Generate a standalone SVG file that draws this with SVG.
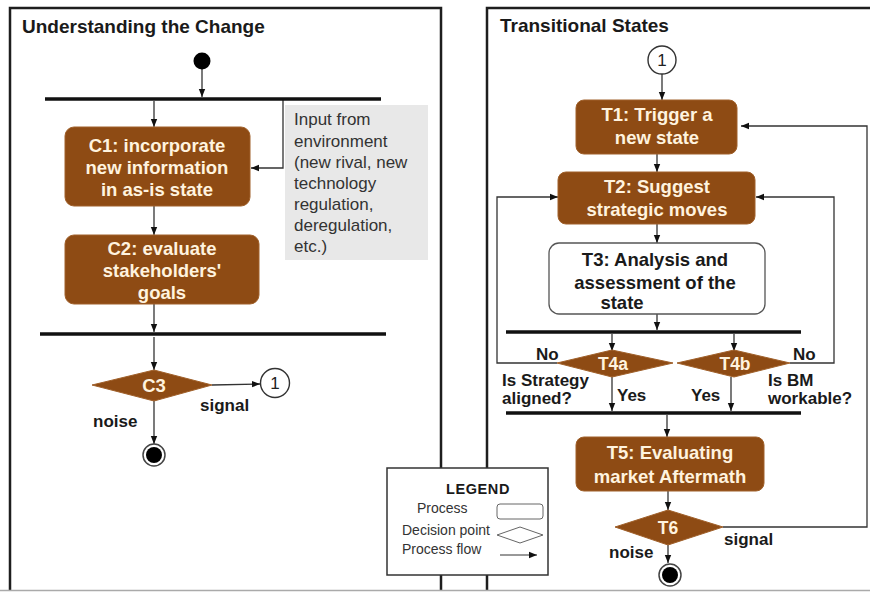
<svg xmlns="http://www.w3.org/2000/svg" width="870" height="592" viewBox="0 0 870 592">
<defs>
<marker id="arr" viewBox="0 0 10 10" refX="10" refY="5" markerWidth="8" markerHeight="8" markerUnits="userSpaceOnUse" orient="auto">
<path d="M0,1 L10,5 L0,9 Z" fill="#111"/>
</marker>
</defs>
<style>
.frame{fill:none;stroke:#1e1e1e;stroke-width:2.5}
.proc{fill:#8e4b14;stroke:#a0602a;stroke-width:1}
.ptxt{font-family:"Liberation Sans",Arial,sans-serif;font-weight:bold;font-size:18.5px;fill:#fff3df;text-anchor:middle}
.btxt{font-family:"Liberation Sans",Arial,sans-serif;font-weight:bold;font-size:17px;fill:#1a1a1a}
.t3{font-family:"Liberation Sans",Arial,sans-serif;font-weight:bold;font-size:18.5px;fill:#1a1a1a;text-anchor:middle}
.title{font-family:"Liberation Sans",Arial,sans-serif;font-weight:bold;font-size:19px;fill:#1a1a1a}
.note{font-family:"Liberation Sans",Arial,sans-serif;font-size:17px;fill:#333}
.leg{font-family:"Liberation Sans",Arial,sans-serif;font-size:14px;fill:#333}
.edge{fill:none;stroke:#333;stroke-width:1.3;marker-end:url(#arr)}
.bar{stroke:#111;stroke-width:3.5}
</style>
<rect width="870" height="592" fill="#fff"/>

<g id="frames">
<path class="frame" d="M10,590 V8 H441 V590"/>
<path class="frame" d="M487,590 V8 H872"/>
<line x1="0" y1="590.5" x2="870" y2="590.5" stroke="#aaa" stroke-width="1.5"/>
<text class="title" x="22" y="33">Understanding the Change</text>
<text class="title" x="500" y="32">Transitional States</text>
</g>

<g id="connectors">
<line class="edge" x1="202" y1="69" x2="202" y2="97"/>
<line class="edge" x1="154" y1="101" x2="154" y2="127"/>
<path class="edge" d="M283,99 V168 H251"/>
<line class="edge" x1="154" y1="206" x2="154" y2="235"/>
<line class="edge" x1="154" y1="304" x2="154" y2="332"/>
<line class="edge" x1="154" y1="337" x2="154" y2="370"/>
<line class="edge" x1="212" y1="385" x2="260" y2="384"/>
<line class="edge" x1="154" y1="401" x2="154" y2="444"/>

<line class="edge" x1="662" y1="74" x2="662" y2="100"/>
<line class="edge" x1="657" y1="154" x2="657" y2="172"/>
<line class="edge" x1="657" y1="224" x2="657" y2="243"/>
<line class="edge" x1="657" y1="314" x2="657" y2="330"/>
<line class="edge" x1="612" y1="334" x2="612" y2="351"/>
<line class="edge" x1="734" y1="334" x2="734" y2="351"/>
<path class="edge" d="M557,363 H497 V197 H558"/>
<path class="edge" d="M790,363 H834 V197 H756"/>
<line class="edge" x1="612" y1="377" x2="612" y2="411"/>
<line class="edge" x1="731" y1="377" x2="731" y2="411"/>
<line class="edge" x1="667" y1="415" x2="667" y2="437"/>
<line class="edge" x1="668" y1="491" x2="668" y2="510"/>
<line class="edge" x1="668" y1="545" x2="668" y2="563"/>
<path class="edge" d="M723,527 H867 V126 H741"/>
</g>

<g id="bars">
<line class="bar" x1="45" y1="99" x2="381" y2="99"/>
<line class="bar" x1="40" y1="334" x2="386" y2="334"/>
<line class="bar" x1="506" y1="332" x2="801" y2="332"/>
<line class="bar" x1="506" y1="413" x2="801" y2="413"/>
</g>

<g id="start"><circle cx="202" cy="61" r="8.5" fill="#000"/></g>

<g id="C1">
<rect class="proc" x="65" y="127" width="185" height="79" rx="9"/>
<text class="ptxt" x="157" y="152">C1: incorporate</text>
<text class="ptxt" x="157" y="174">new information</text>
<text class="ptxt" x="157" y="196">in as-is state</text>
</g>

<g id="input">
<rect x="285" y="105" width="143" height="155" fill="#e8e8e8"/>
<text class="note" x="294" y="125">Input from</text>
<text class="note" x="294" y="147">environment</text>
<text class="note" x="294" y="168">(new rival, new</text>
<text class="note" x="294" y="189">technology</text>
<text class="note" x="294" y="210">regulation,</text>
<text class="note" x="294" y="231">deregulation,</text>
<text class="note" x="294" y="252">etc.)</text>
</g>

<g id="C2">
<rect class="proc" x="65" y="235" width="194" height="69" rx="9"/>
<text class="ptxt" x="162" y="255">C2: evaluate</text>
<text class="ptxt" x="162" y="277">stakeholders'</text>
<text class="ptxt" x="162" y="299">goals</text>
</g>

<g id="C3">
<polygon class="proc" points="92,385 154,370 212,385 154,401"/>
<text class="ptxt" x="154" y="392">C3</text>
<text class="btxt" x="200" y="411">signal</text>
<text class="btxt" x="93" y="427">noise</text>
</g>

<g id="conn1a">
<circle cx="275" cy="383" r="14.5" fill="#fff" stroke="#333" stroke-width="1.4"/>
<text x="275" y="389" text-anchor="middle" font-family="Liberation Sans, Arial, sans-serif" font-size="17" fill="#222">1</text>
</g>

<g id="endL">
<circle cx="154" cy="455" r="11" fill="#fff" stroke="#444" stroke-width="1.5"/>
<circle cx="154" cy="455" r="8" fill="#000"/>
</g>

<g id="legend">
<rect x="387" y="468" width="161" height="107" fill="#fff" stroke="#333" stroke-width="1.5"/>
<text x="478" y="494" text-anchor="middle" font-family="Liberation Sans, Arial, sans-serif" font-size="14.5" font-weight="bold" letter-spacing="0.6" fill="#1a1a1a">LEGEND</text>
<text class="leg" x="417" y="513">Process</text>
<rect x="497" y="504" width="46" height="15" rx="3" fill="#fff" stroke="#666" stroke-width="1"/>
<text class="leg" x="402" y="535">Decision point</text>
<polygon points="497,535 520,527 543,535 520,543" fill="#fff" stroke="#666" stroke-width="1"/>
<text class="leg" x="402" y="554">Process flow</text>
<line x1="500" y1="555" x2="537" y2="555" stroke="#333" stroke-width="1" marker-end="url(#arr)"/>
</g>

<g id="conn1b">
<circle cx="662" cy="60" r="14" fill="#fff" stroke="#333" stroke-width="1.4"/>
<text x="662" y="66" text-anchor="middle" font-family="Liberation Sans, Arial, sans-serif" font-size="17" fill="#222">1</text>
</g>

<g id="T1">
<rect class="proc" x="576" y="100" width="161" height="54" rx="8"/>
<text class="ptxt" x="657" y="121">T1: Trigger a</text>
<text class="ptxt" x="657" y="144">new state</text>
</g>

<g id="T2">
<rect class="proc" x="558" y="172" width="197" height="52" rx="8"/>
<text class="ptxt" x="657" y="193">T2: Suggest</text>
<text class="ptxt" x="657" y="216">strategic  moves</text>
</g>

<g id="T3">
<rect x="549" y="243" width="216" height="71" rx="10" fill="#fff" stroke="#555" stroke-width="1.3"/>
<text class="t3" x="655" y="266">T3: Analysis and</text>
<text class="t3" x="655" y="289">assessment of the</text>
<text class="t3" x="622" y="309">state</text>
</g>

<g id="T4a">
<polygon class="proc" points="557,363 612,350 673,363 612,377"/>
<text class="ptxt" x="613" y="370" style="font-size:17.5px">T4a</text>
<text class="btxt" x="536" y="360">No</text>
<text class="btxt" x="502" y="386">Is Strategy</text>
<text class="btxt" x="502" y="404">aligned?</text>
<text class="btxt" x="617" y="401">Yes</text>
</g>

<g id="T4b">
<polygon class="proc" points="677,363 734,350 790,363 734,377"/>
<text class="ptxt" x="735" y="370" style="font-size:17.5px">T4b</text>
<text class="btxt" x="793" y="360">No</text>
<text class="btxt" x="768" y="386">Is BM</text>
<text class="btxt" x="768" y="404">workable?</text>
<text class="btxt" x="691" y="401">Yes</text>
</g>

<g id="T5">
<rect class="proc" x="576" y="437" width="188" height="54" rx="8"/>
<text class="ptxt" x="670" y="459">T5: Evaluating</text>
<text class="ptxt" x="670" y="483">market Aftermath</text>
</g>

<g id="T6">
<polygon class="proc" points="615,527 668,510 723,527 668,545"/>
<text class="ptxt" x="668" y="534" style="font-size:17.5px">T6</text>
<text class="btxt" x="724" y="545">signal</text>
<text class="btxt" x="609" y="558">noise</text>
</g>

<g id="endR">
<circle cx="670" cy="575" r="11" fill="#fff" stroke="#444" stroke-width="1.5"/>
<circle cx="670" cy="575" r="8" fill="#000"/>
</g>
</svg>
